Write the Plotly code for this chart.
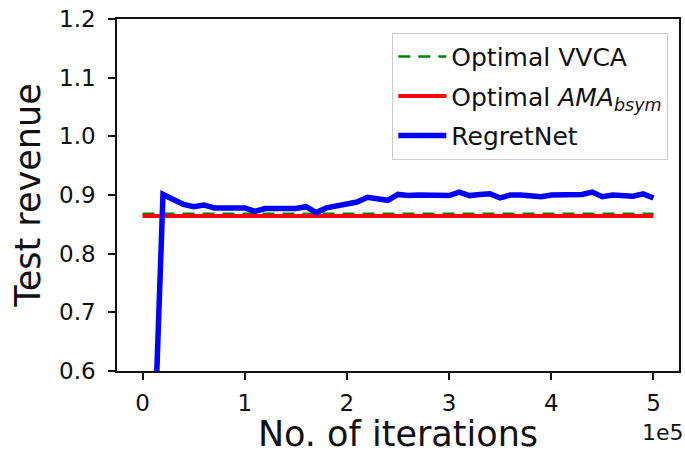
import plotly.graph_objects as go

# ---- data ----
iterations = [i * 1e4 for i in range(51)]
regretnet = [0.0, 0.40, 0.901, 0.893, 0.884, 0.880, 0.883, 0.878, 0.878, 0.877,
             0.878, 0.872, 0.877, 0.877, 0.876, 0.877, 0.880, 0.870, 0.878, 0.881,
             0.884, 0.888, 0.896, 0.893, 0.891, 0.901, 0.899, 0.900, 0.900, 0.899,
             0.899, 0.905, 0.899, 0.901, 0.902, 0.895, 0.900, 0.900, 0.898, 0.897,
             0.900, 0.901, 0.902, 0.901, 0.905, 0.897, 0.900, 0.899, 0.898, 0.902,
             0.895]
vvca_value = 0.868
ama_value = 0.864
x_tickvals = [0, 1e5, 2e5, 3e5, 4e5, 5e5]
x_ticktext = ["0", "1", "2", "3", "4", "5"]
y_tickvals = [0.6, 0.7, 0.8, 0.9, 1.0, 1.1, 1.2]

FONT = "DejaVu Sans"

fig = go.Figure()
fig.add_trace(go.Scatter(
    x=iterations, y=[vvca_value] * len(iterations), mode="lines",
    name="Optimal VVCA", legendgroup="a",
    line=dict(color="#008000", width=2.6, dash="12px,8px")))
fig.add_trace(go.Scatter(
    x=iterations, y=[ama_value] * len(iterations), mode="lines",
    name="Optimal <i>AMA</i><sub><i>bsym</i></sub>", legendgroup="b",
    line=dict(color="#ff0000", width=4)))
fig.add_trace(go.Scatter(
    x=iterations, y=regretnet, mode="lines",
    name="RegretNet", legendgroup="c",
    line=dict(color="#0000ff", width=5.5)))

axis_common = dict(
    showline=True, linecolor="#111111", linewidth=1.6, mirror=True,
    ticks="outside", ticklen=7, tickwidth=1.6, tickcolor="#111111",
    showgrid=False, zeroline=False,
    tickfont=dict(family=FONT, size=23, color="#111111"),
)

fig.update_layout(
    width=685, height=454,
    margin=dict(l=117, r=4, t=19, b=83),
    paper_bgcolor="white", plot_bgcolor="white",
    font=dict(family=FONT, color="#111111"),
    xaxis=dict(range=[-0.25e5, 5.25e5], tickvals=x_tickvals, ticktext=x_ticktext,
               title=dict(text="No. of iterations", font=dict(family=FONT, size=35), standoff=8),
               ticklabelstandoff=4,
               **axis_common),
    yaxis=dict(range=[0.6, 1.2], tickvals=y_tickvals, tickformat=".1f",
               title=dict(text="Test revenue", font=dict(family=FONT, size=35), standoff=8),
               ticklabelstandoff=8,
               **axis_common),
    legend=dict(x=0.981, y=0.961, xanchor="right", yanchor="top",
                bgcolor="white", bordercolor="#cccccc", borderwidth=1,
                font=dict(family=FONT, size=25, color="#111111"),
                tracegroupgap=4, itemwidth=48),
    showlegend=True,
)
fig.add_annotation(text="1e5", xref="paper", yref="paper", x=1.012, y=-0.1745,
                   xanchor="right", yanchor="middle", showarrow=False,
                   font=dict(family=FONT, size=22, color="#111111"))

fig.write_html("out.html")
